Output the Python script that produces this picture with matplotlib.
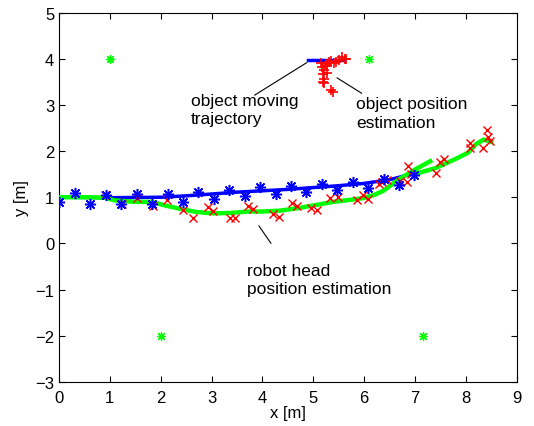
import numpy as np
import matplotlib
matplotlib.use("Agg")
import matplotlib.pyplot as plt

plt.rcParams['font.family'] = ['Liberation Sans', 'DejaVu Sans']

# landmarks
land_x = [1.0, 6.1, 2.0, 7.15]
land_y = [4.0, 4.0, -2.0, -2.0]

# object moving trajectory
obj_x = [4.9, 5.6]
obj_y = [3.98, 3.98]

# object position estimation
objest_x = [5.18, 5.22, 5.25, 5.3, 5.35, 5.45, 5.5, 5.57, 5.62, 5.65, 5.2, 5.22,
            5.2, 5.22, 5.35, 5.38, 5.28, 5.4, 5.15, 5.27]
objest_y = [3.82, 3.75, 3.88, 3.92, 3.95, 3.94, 3.98, 4.03, 4.0, 3.99, 3.68, 3.56,
            3.5, 3.47, 3.32, 3.28, 3.85, 3.9, 3.9, 3.7]

# robot head ground truth (blue line) and markers
truth_x = [0, 1, 2, 2.5, 3, 3.5, 4, 4.5, 5, 5.5, 6, 6.5, 7]
truth_y = [1.0, 0.99, 1.0, 1.03, 1.07, 1.11, 1.14, 1.17, 1.21, 1.25, 1.3, 1.38, 1.52]

star_x = [0.0, 0.31, 0.61, 0.93, 1.22, 1.54, 1.83, 2.15, 2.44, 2.74, 3.05, 3.35,
          3.66, 3.96, 4.27, 4.57, 4.86, 5.18, 5.47, 5.79, 6.08, 6.4, 6.69, 6.99]
star_y = [0.9, 1.1, 0.86, 1.04, 0.86, 1.06, 0.86, 1.06, 0.9, 1.12, 0.97, 1.16,
          1.03, 1.23, 1.08, 1.25, 1.12, 1.29, 1.16, 1.34, 1.21, 1.4, 1.27, 1.49]

# robot head position estimation (green line, with a jump)
est_x = [0, 0.5, 0.9, 1.1, 1.5, 1.83, 2.09, 2.42, 2.7, 3.03, 3.4, 3.7, 4.0, 4.35,
         4.74, 4.88, 5.1, 5.39, 5.7, 5.98, 6.2, 6.38, 6.55, 6.7, 7.0, 7.3,
         np.nan, 7.05, 7.4, 7.8, 8.05, 8.2, 8.35, 8.5]
est_y = [1.0, 1.0, 0.99, 0.93, 0.9, 0.9, 0.82, 0.74, 0.68, 0.65, 0.66, 0.69, 0.69,
         0.71, 0.77, 0.8, 0.84, 0.9, 0.94, 0.98, 1.05, 1.14, 1.28, 1.4, 1.6, 1.78,
         np.nan, 1.52, 1.63, 1.83, 1.97, 2.15, 2.25, 2.2]

# red x markers
cross_x = [0.0, 0.31, 0.61, 0.91, 1.24, 1.54, 1.85, 2.13, 2.44, 2.64, 2.93, 3.03,
           3.37, 3.46, 3.72, 3.82, 4.21, 4.33, 4.59, 4.69, 4.96, 5.08, 5.33, 5.48,
           5.87, 5.98, 6.08, 6.3, 6.36, 6.46, 6.71, 6.85, 6.87, 6.93, 7.42, 7.5,
           7.58, 8.09, 8.09, 8.33, 8.41, 8.43, 8.48]
cross_y = [0.9, 1.1, 0.86, 1.05, 0.86, 0.99, 0.82, 0.93, 0.73, 0.55, 0.78, 0.71,
           0.56, 0.56, 0.8, 0.74, 0.63, 0.58, 0.88, 0.82, 0.76, 0.72, 0.99, 1.01,
           0.93, 1.05, 0.97, 1.29, 1.34, 1.37, 1.36, 1.34, 1.68, 1.51, 1.52, 1.77,
           1.82, 2.18, 2.07, 2.06, 2.45, 2.31, 2.22]

asterisk = (8, 2, 0)

fig = plt.figure(figsize=(5.34, 4.27), dpi=100)
ax = fig.add_axes([0.1105, 0.1035, 0.857, 0.8645])

ax.plot(truth_x, truth_y, color='#0000ff', lw=2.5, zorder=2)
ax.plot(est_x, est_y, color='#00ff00', lw=3.2, zorder=3)
ax.plot(cross_x, cross_y, 'x', color='#ff0000', ms=6, mew=1.0, zorder=4)
ax.plot(star_x, star_y, marker=asterisk, ls='none', color='#0000ff', ms=8, mew=1.1, zorder=5)
ax.plot(obj_x, obj_y, color='#0000ff', lw=2.5, zorder=2)
ax.plot(objest_x, objest_y, '+', color='#ff0000', ms=7, mew=1.2, zorder=4)
ax.plot(land_x, land_y, marker=asterisk, ls='none', color='#00ff00', ms=6.5, mew=0.9, zorder=5)

# annotations
ax.annotate('', xy=(4.92, 3.95), xytext=(3.8, 3.18),
            arrowprops=dict(arrowstyle='-', color='black', lw=0.8))
ax.text(2.6, 2.9, 'object moving\ntrajectory', fontsize=12.5, va='center',
        ha='left', linespacing=1.3)
ax.annotate('', xy=(5.42, 3.62), xytext=(6.0, 3.22),
            arrowprops=dict(arrowstyle='-', color='black', lw=0.8))
ax.text(5.85, 2.82, 'object position\nestimation', fontsize=12.5, va='center',
        ha='left', linespacing=1.3)
ax.annotate('', xy=(3.9, 0.43), xytext=(4.2, -0.05),
            arrowprops=dict(arrowstyle='-', color='black', lw=0.8))
ax.text(3.7, -0.78, 'robot head\nposition estimation', fontsize=12.5, va='center',
        ha='left', linespacing=1.3)

ax.set_xlim(0, 9)
ax.set_ylim(-3, 5)
ax.set_xticks(range(0, 10))
ax.set_yticks(range(-3, 6))
ax.tick_params(direction='in', top=True, right=True, labelsize=12, length=4)
ax.tick_params(axis='x', pad=6)
ax.set_xlabel('x [m]', fontsize=12, labelpad=0)
ax.set_ylabel('y [m]', fontsize=12, labelpad=4)

fig.savefig('out.png', dpi=100)
